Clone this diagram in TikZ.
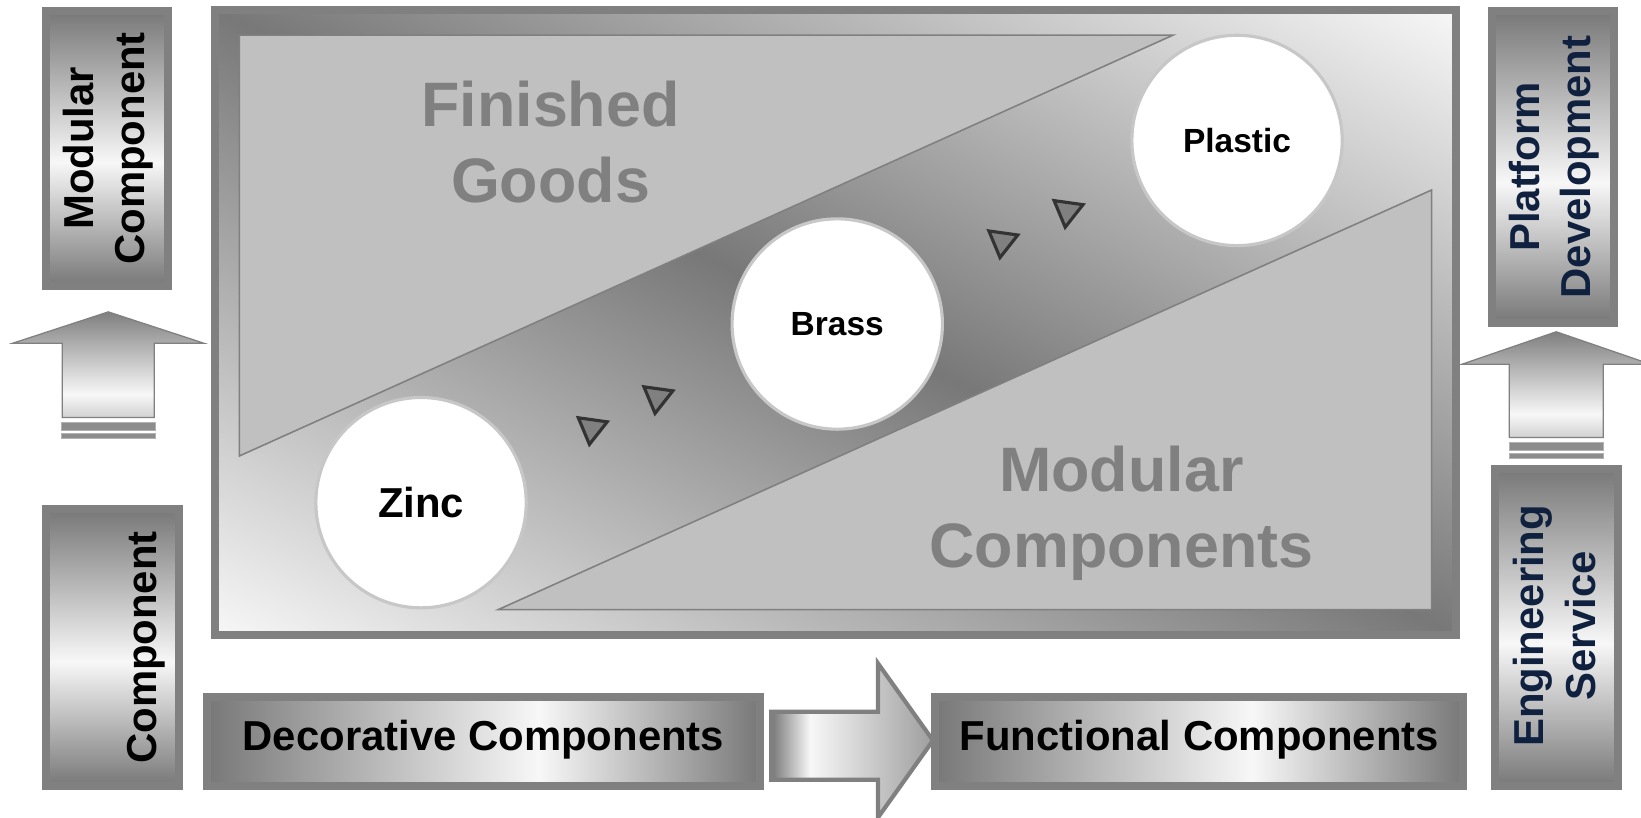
\documentclass[tikz,border=0pt]{standalone}
\usepackage{fontspec}
\setmainfont{Liberation Sans}
\definecolor{gborder}{gray}{0.5}
\definecolor{gdark}{gray}{0.47}
\definecolor{gwhite}{gray}{0.97}
\definecolor{gregion}{gray}{0.753}
\definecolor{gcirc}{gray}{0.78}
\definecolor{gmark}{gray}{0.2}
\definecolor{gbar}{gray}{0.55}
\definecolor{gsix}{gray}{0.62}
\definecolor{alight}{gray}{0.82}
\definecolor{navy}{HTML}{0F213F}
\pgfdeclarehorizontalshading{hgrad}{100bp}{color(0bp)=(gdark); color(25bp)=(gdark); color(55bp)=(gwhite); color(75bp)=(gdark); color(100bp)=(gdark)}
\pgfdeclareverticalshading{vgrad}{100bp}{color(0bp)=(gdark); color(25bp)=(gdark); color(47.5bp)=(gwhite); color(75bp)=(gdark); color(100bp)=(gdark)}
\pgfdeclareverticalshading{arrowv}{100bp}{color(0bp)=(alight); color(25bp)=(alight); color(36bp)=(gwhite); color(75bp)=(gborder); color(100bp)=(gborder)}
\pgfdeclarehorizontalshading{arrowh}{100bp}{color(0bp)=(gdark); color(25bp)=(gdark); color(37bp)=(gwhite); color(75bp)=(gsix); color(100bp)=(gsix)}
\pgfdeclarefunctionalshading{diagband}{\pgfpoint{0bp}{0bp}}{\pgfpoint{100bp}{100bp}}{}{add 50 sub 100 div 2 mul 1 sub abs 0.5 mul 0.47 add dup 0.97 gt {pop 0.97} if dup dup}
\begin{document}
\begin{tikzpicture}[x=1pt,y=-1pt,
  framestyle/.style={draw=gborder, line width=7.6, shade, shading=diagband, inner sep=0, outer sep=0},
  hboxstyle/.style={draw=gborder, line width=7.6, shade, shading=hgrad, inner sep=0, outer sep=0, text depth=12, font=\bfseries\fontsize{40}{48}\selectfont},
  vboxstyle/.style={draw=gborder, line width=7.6, shade, shading=vgrad, inner sep=0, outer sep=0},
  vtext/.style={rotate=90, align=center, inner sep=0, font=\bfseries\fontsize{40}{49.4}\selectfont},
  regionshape/.style={fill=gregion, draw=gborder, line width=1.5},
  regiontext/.style={align=center, inner sep=0, text=gborder, font=\bfseries\fontsize{60}{73}\selectfont},
  discstyle/.style={circle, fill=white, draw=gcirc, line width=3, minimum size=201, inner sep=0},
  markertri/.style={fill=gborder, draw=gmark, line width=3, line join=miter},
  uparrowshape/.style={shade, shading=arrowv, draw=gborder, line width=1.2},
  barstrip/.style={fill=gbar, draw=gray!60, line width=0.8},
  blockarrow/.style={shade, shading=arrowh, draw=gborder, line width=4, line join=miter}]
\useasboundingbox (0,0) rectangle (1568,781.6);
% central frame
\node[framestyle, minimum width=1185.8, minimum height=597.2] (frame) at (798.3,308.1) {};
\draw[regionshape] (228.7,33.5) -- (1121,33.5) -- (228.7,435.7) -- cycle;
\draw[regionshape] (1368,181.5) -- (1368,582.5) -- (476,582.5) -- cycle;
\node[regiontext] (fg) at (526,135.8) {Finished\\Goods};
\node[regiontext] (mc) at (1071.5,490.7) {Modular\\Components};
\foreach \p in {(552.6,399.2),(615.3,369.6),(944.9,220.7),(1007.2,191.7)}
  \draw[markertri] \p -- ++(27.6,3.85) -- ++(-17,21.55) -- cycle;
\node[discstyle, font=\bfseries\fontsize{40}{48}\selectfont] (zinc) at (402.3,480.3) {Zinc};
\node[discstyle, font=\bfseries\fontsize{32}{38}\selectfont] (brass) at (800,309.6) {Brass};
\node[discstyle, font=\bfseries\fontsize{32}{38}\selectfont] (plastic) at (1182,134.2) {Plastic};
% side boxes
\node[vboxstyle, minimum width=116.4, minimum height=262.7] (mcbox) at (102,141.85) {};
\node[vtext] (mclabel) at (103.5,141.8) {Modular\\Component};
\node[vboxstyle, minimum width=127.4, minimum height=264.4] (compbox) at (107.5,619) {};
\node[vtext, anchor=base] (complabel) at (149.7,618.7) {Component};
\node[vboxstyle, minimum width=116.4, minimum height=297.4] (pdbox) at (1484,159.5) {};
\node[vtext, text=navy] (pdlabel) at (1485,159.5) {Platform\\Development};
\node[vboxstyle, minimum width=117.4, minimum height=303.4] (esbox) at (1487.5,599.5) {};
\node[vtext, text=navy] (eslabel) at (1485.3,598) {Engineering\\Service};
% bottom boxes
\node[hboxstyle, minimum width=528.4, minimum height=85.4] (deco) at (462,708.5) {Decorative Components};
\node[hboxstyle, minimum width=504.4, minimum height=85.4] (func) at (1146,708.5) {Functional Components};
% arrows
\draw[uparrowshape] (103.5,298) -- (195,328) -- (147.5,328) -- (147.5,399) -- (59.5,399) -- (59.5,328) -- (12,328) -- cycle;
\draw[barstrip] (58.5,404) rectangle (148.5,411.5);
\draw[barstrip] (58.5,414) rectangle (148.5,419);
\draw[uparrowshape] (1487,317) -- (1577,348) -- (1532,348) -- (1532,418) -- (1442,418) -- (1442,348) -- (1397,348) -- cycle;
\draw[barstrip] (1442,422.5) rectangle (1532,430);
\draw[barstrip] (1442,433) rectangle (1532,438);
\draw[blockarrow] (737,680) -- (839,680) -- (839,634) -- (891.5,707.5) -- (839,781) -- (839,745) -- (737,745) -- cycle;
\end{tikzpicture}
\end{document}
